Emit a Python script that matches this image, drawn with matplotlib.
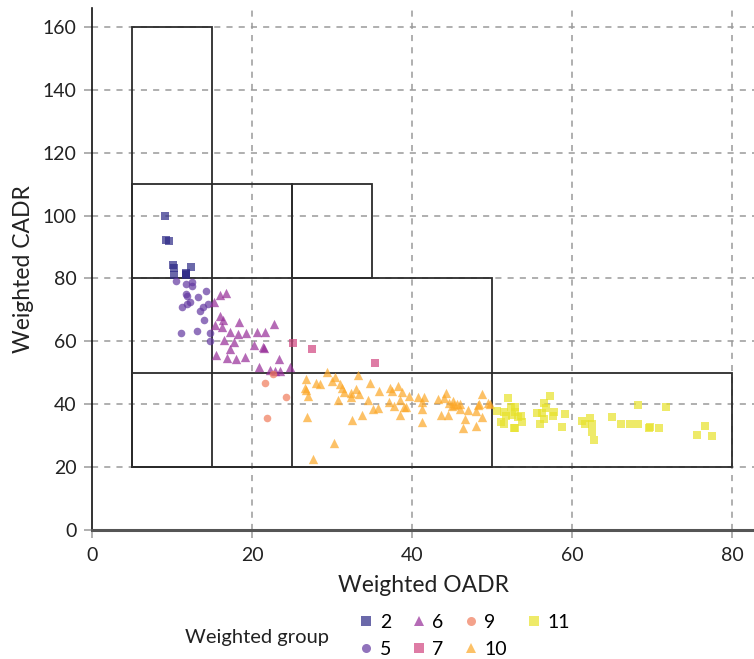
import matplotlib
matplotlib.use("Agg")
import matplotlib.pyplot as plt
from matplotlib.patches import Rectangle
from matplotlib.lines import Line2D

plt.rcParams['font.family'] = ['Lato', 'DejaVu Sans']

# ---- data ----
groups = ['2', '5', '6', '7', '9', '10', '11']

x2 = [9.1, 9.3, 9.6, 10.1, 10.25, 10.25, 11.7, 11.75, 11.8, 12.4]
y2 = [100, 92.3, 92.0, 84.4, 83.4, 81.0, 81.1, 81.8, 81.4, 83.7]

x5 = [10.5, 11.7, 12.5, 12.5, 11.75, 11.9, 13.2, 14.3, 12.2, 11.9, 11.2, 14.5, 13.9, 13.5, 14.0, 11.1, 13.1, 14.75, 14.8]
y5 = [79.1, 78.3, 78.8, 77.6, 75.0, 74.5, 74.0, 76.0, 72.6, 71.8, 71.0, 71.8, 71.0, 69.7, 66.7, 62.8, 63.3, 62.6, 60.2]

x6 = [16.0, 16.7, 15.25, 16.0, 16.4, 15.4, 16.3, 18.4, 22.7, 17.3, 18.3, 19.2, 20.6, 21.6, 16.5,
      17.7, 20.2, 21.4, 21.5, 17.3, 15.5, 16.9, 18.0, 19.1, 23.4, 20.9, 22.25, 22.9, 23.5, 24.75]
y6 = [74.7, 75.3, 72.5, 67.9, 66.8, 65.1, 64.5, 66.3, 65.4, 62.9, 62.4, 62.6, 63.0, 62.9, 60.3,
      59.8, 58.8, 58.2, 58.0, 57.5, 55.7, 54.6, 54.5, 55.0, 54.4, 51.8, 50.8, 50.7, 50.6, 51.9]

x7 = [25.1, 27.5, 35.4]
y7 = [59.6, 57.7, 53.2]

x9 = [21.6, 24.25, 21.9, 22.6]
y9 = [46.9, 42.2, 35.5, 49.5]

x10 = [29.4, 26.7, 28.0, 28.5, 30.4, 30.0, 33.3, 31.0, 31.2, 31.5, 26.6, 26.7, 27.0, 32.4, 33.0,
       33.4, 32.4, 34.8, 35.9, 34.5, 30.7, 37.2, 37.5, 38.2, 38.75, 37.1, 38.5, 37.75, 35.1, 35.8,
       39.0, 39.3, 39.6, 38.5, 33.7, 32.5, 26.9, 30.25, 27.6, 40.8, 41.5, 41.2, 41.2, 41.2, 43.3,
       44.3, 44.0, 45.1, 45.3, 46.0, 45.0, 43.6, 44.5, 46.0, 47.0, 48.0, 48.3, 49.5, 48.75, 48.7,
       46.6, 46.4, 48.0, 49.75, 44.6, 45.6, 48.4]
y10 = [50.2, 47.9, 46.8, 46.3, 48.8, 47.4, 49.3, 46.5, 45.3, 44.0, 45.3, 44.5, 42.6, 43.7, 44.8,
       43.3, 42.4, 46.8, 44.2, 41.5, 41.3, 45.1, 44.2, 45.8, 43.9, 40.6, 41.3, 39.4, 38.6, 38.7,
       39.2, 39.2, 42.7, 36.7, 36.7, 35.0, 35.9, 27.6, 22.6, 42.2, 42.2, 40.8, 38.6, 34.2, 41.6,
       43.5, 42.1, 40.9, 39.9, 40.2, 39.4, 36.7, 36.7, 38.4, 38.2, 37.7, 39.8, 40.5, 43.3, 36.0,
       35.2, 32.3, 33.1, 40.0, 40.5, 40.0, 40.0]

x11 = [52.0, 57.3, 56.5, 56.8, 57.7, 57.6, 59.1, 58.8, 56.5, 56.0, 55.6, 56.25, 50.6, 51.5, 52.4,
       52.9, 51.7, 52.5, 52.9, 53.2, 53.6, 51.1, 51.5, 52.7, 52.9, 53.75, 61.25, 61.6, 62.25, 62.5,
       62.5, 62.75, 65.0, 66.1, 67.25, 68.3, 68.2, 69.6, 69.8, 70.9, 71.7, 75.6, 76.6, 77.5]
y11 = [42.1, 42.7, 40.5, 38.9, 37.6, 36.4, 36.9, 32.9, 35.4, 33.8, 37.3, 37.3, 37.9, 37.6, 39.2,
       39.2, 36.3, 36.6, 37.6, 36.0, 36.3, 34.2, 33.6, 32.5, 32.5, 34.3, 34.8, 33.7, 35.6, 33.8,
       31.2, 28.6, 36.0, 33.6, 33.6, 33.8, 39.9, 32.3, 32.8, 32.3, 39.2, 30.3, 33.2, 30.0]

# boxes: (x0, y0, x1, y1)
box_x0 = [5, 5, 25, 5, 5]
box_y0 = [20, 20, 80, 20, 20]
box_x1 = [15, 25, 35, 50, 80]
box_y1 = [160, 110, 110, 80, 50]

x_ticks = [0, 20, 40, 60, 80]
y_ticks = [0, 20, 40, 60, 80, 100, 120, 140, 160]

series = [(x2, y2), (x5, y5), (x6, y6), (x7, y7), (x9, y9), (x10, y10), (x11, y11)]
colors = ['#2d2a87', '#6238a0', '#962c98', '#d0457f', '#f07b5a', '#fca726', '#e8e22a']
markers = ['s', 'o', '^', 's', 'o', '^', 's']
sizes = [30, 30, 45, 30, 30, 45, 30]

# ---- figure ----
fig = plt.figure(figsize=(7.54, 6.59), dpi=100)
ax = fig.add_axes([92/754, 1-530/659, 1-92/754, (530-8)/659])
ax.set_xlim(0, 82.75)
ax.set_ylim(0, 166)

grid_kw = dict(color='#9a9a9a', lw=1.1, ls=(0, (4, 4)), zorder=0)
for xt in x_ticks[1:]:
    ax.axvline(xt, **grid_kw)
for yt in y_ticks[1:]:
    ax.axhline(yt, **grid_kw)

for a, b, c, d in zip(box_x0, box_y0, box_x1, box_y1):
    ax.add_patch(Rectangle((a, b), c - a, d - b, fill=False, ec='#2b2b2b', lw=1.3, zorder=2))

for (xs, ys), col, m, s in zip(series, colors, markers, sizes):
    ax.scatter(xs, ys, c=col, marker=m, s=s, alpha=0.7, linewidths=0, zorder=3)

ax.set_xticks(x_ticks)
ax.set_yticks(y_ticks)
ax.tick_params(axis='both', labelsize=14, colors='#9a9a9a', labelcolor='#222222', length=6, width=1.1)
ax.tick_params(axis='x', pad=6)
ax.tick_params(axis='y', pad=5)

for sp in ['top', 'right']:
    ax.spines[sp].set_visible(False)
ax.spines['left'].set_color('#111111')
ax.spines['left'].set_linewidth(1.2)
ax.spines['bottom'].set_color('#555555')
ax.spines['bottom'].set_linewidth(2.2)
ax.spines['bottom'].set_zorder(4)

ax.set_xlabel('Weighted OADR', fontsize=16.5, color='#222222', labelpad=8)
ax.set_ylabel('Weighted CADR', fontsize=16.5, color='#222222', labelpad=6)

handles = [Line2D([], [], ls='none', marker=m, color=c, alpha=0.7, markersize=6.5, markeredgewidth=0)
           for c, m in zip(colors, markers)]
fig.legend(handles, groups, ncol=4, loc='center left', bbox_to_anchor=(343/754, 1-636/659),
           frameon=False, fontsize=14, handletextpad=0.2, columnspacing=0.9,
           labelspacing=0.5, handlelength=1.0, borderpad=0.2)
fig.text(185/754, 1-637/659, 'Weighted group', fontsize=14.5, color='#222222', va='center', ha='left')

fig.savefig('out.png', dpi=100)
